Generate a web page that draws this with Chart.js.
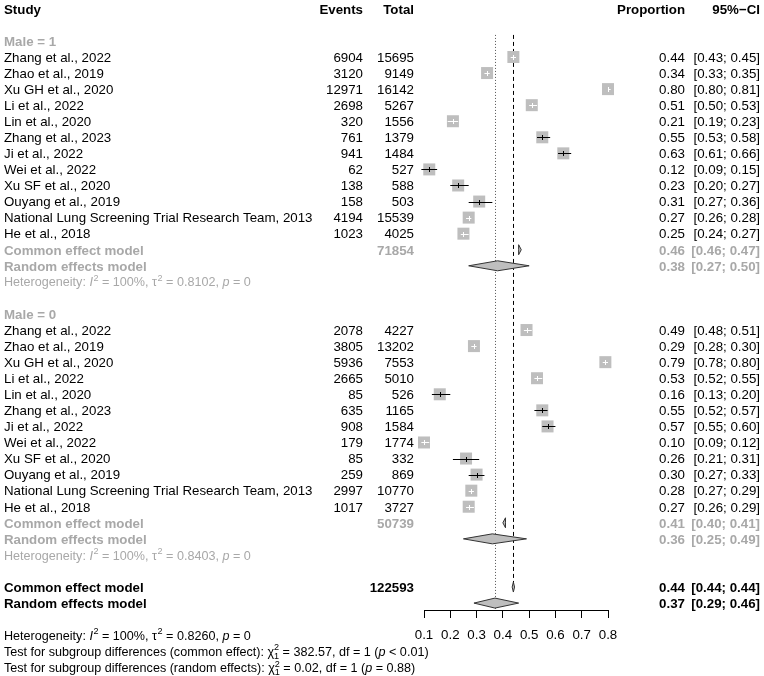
<!DOCTYPE html>
<html><head><meta charset="utf-8">
<script src="https://cdn.jsdelivr.net/npm/chart.js@4/dist/chart.umd.min.js"></script>
<style>html,body{margin:0;padding:0;background:#fff}canvas{display:block}</style>
</head><body>
<canvas id="c" width="764" height="676"></canvas>
<script>
// ---------------- data ----------------
const studies = ["Zhang et al., 2022", "Zhao et al., 2019", "Xu GH et al., 2020", "Li et al., 2022",
  "Lin et al., 2020", "Zhang et al., 2023", "Ji et al., 2022", "Wei et al., 2022", "Xu SF et al., 2020",
  "Ouyang et al., 2019", "National Lung Screening Trial Research Team, 2013", "He et al., 2018"];

const male1Events = [6904, 3120, 12971, 2698, 320, 761, 941, 62, 138, 158, 4194, 1023];
const male1Total  = [15695, 9149, 16142, 5267, 1556, 1379, 1484, 527, 588, 503, 15539, 4025];
const male1Prop   = [0.44, 0.34, 0.80, 0.51, 0.21, 0.55, 0.63, 0.12, 0.23, 0.31, 0.27, 0.25];
const male1Lower  = [0.43, 0.33, 0.80, 0.50, 0.19, 0.53, 0.61, 0.09, 0.20, 0.27, 0.26, 0.24];
const male1Upper  = [0.45, 0.35, 0.81, 0.53, 0.23, 0.58, 0.66, 0.15, 0.27, 0.36, 0.28, 0.27];

const male0Events = [2078, 3805, 5936, 2665, 85, 635, 908, 179, 85, 259, 2997, 1017];
const male0Total  = [4227, 13202, 7553, 5010, 526, 1165, 1584, 1774, 332, 869, 10770, 3727];
const male0Prop   = [0.49, 0.29, 0.79, 0.53, 0.16, 0.55, 0.57, 0.10, 0.26, 0.30, 0.28, 0.27];
const male0Lower  = [0.48, 0.28, 0.78, 0.52, 0.13, 0.52, 0.55, 0.09, 0.21, 0.27, 0.27, 0.26];
const male0Upper  = [0.51, 0.30, 0.80, 0.55, 0.20, 0.57, 0.60, 0.12, 0.31, 0.33, 0.29, 0.29];

// summaries: [estimate, lower, upper]
const male1Common  = [0.46, 0.46, 0.47];
const male1Random  = [0.38, 0.27, 0.50];
const male0Common  = [0.41, 0.40, 0.41];
const male0Random  = [0.36, 0.25, 0.49];
const overallCommon = [0.44, 0.44, 0.44];
const overallRandom = [0.37, 0.29, 0.46];
const male1N = 71854, male0N = 50739, overallN = 122593;

const male1Het = ["100%", "0.8102", "0"];
const male0Het = ["100%", "0.8403", "0"];
const overallHet = ["100%", "0.8260", "0"];
const testCommon = ["382.57", "1", "< 0.01"];
const testRandom = ["0.02", "1", "= 0.88"];

const axisTicks = [0.1, 0.2, 0.3, 0.4, 0.5, 0.6, 0.7, 0.8];

// ---------------- layout ----------------
const FF = "'Liberation Sans', Arial, sans-serif";
const FS = 13.3;
const FSH = 12.6;            // heterogeneity / test text size
const GRAY_TXT = '#A8A8A8';
const SQ = 12;               // square side px
const ROW1 = 3, ROW0 = 20;   // first study rows
const colStudy = 4, colEvents = 363, colTotal = 414, colProp = 685, colCI = 760;

const male1Points = male1Prop.map((p, i) => ({x: p, y: ROW1 + i}));
const male0Points = male0Prop.map((p, i) => ({x: p, y: ROW0 + i}));

function f2(v) { return v.toFixed(2); }
function ciTxt(lo, hi) { return '[' + f2(lo) + '; ' + f2(hi) + ']'; }

function txt(ctx, s, x, y, align, bold, color) {
  ctx.font = (bold ? 'bold ' : '') + FS + 'px ' + FF;
  ctx.textAlign = align; ctx.fillStyle = color; ctx.textBaseline = 'alphabetic';
  ctx.fillText(s, x, y + 4.8);
}

function rich(ctx, x, y, segs, color) {
  let cx = x; y = y + 4.6;
  ctx.textAlign = 'left'; ctx.fillStyle = color; ctx.textBaseline = 'alphabetic';
  const small = (FSH * 0.72).toFixed(1) + 'px ' + FF;
  for (const [t, st] of segs) {
    if (st === 'n' || st === 'i') {
      ctx.font = (st === 'i' ? 'italic ' : '') + FSH + 'px ' + FF;
      ctx.fillText(t, cx, y); cx += ctx.measureText(t).width;
    } else if (st === 'sup') {
      ctx.font = small; ctx.fillText(t, cx + 0.5, y - 5.4); cx += ctx.measureText(t).width + 0.5;
    } else if (st === 'supsub') {
      const [a, b] = t.split('|');
      ctx.font = small;
      ctx.fillText(a, cx, y - 5.4); ctx.fillText(b, cx, y + 3.4);
      cx += Math.max(ctx.measureText(a).width, ctx.measureText(b).width);
    }
  }
}

function hetSegs(h) {
  return [["Heterogeneity: ", 'n'], ["I", 'i'], ["2", 'sup'], [" = " + h[0] + ", \u03C4", 'n'], ["2", 'sup'],
          [" = " + h[1] + ", ", 'n'], ["p", 'i'], [" = " + h[2], 'n']];
}
function testSegs(label, t) {
  return [["Test for subgroup differences (" + label + "): \u03C7", 'n'], ["2|1", 'supsub'],
          [" = " + t[0] + ", df = " + t[1] + " (", 'n'], ["p", 'i'], [" " + t[2] + ")", 'n']];
}

function diamond(ctx, xs, y, s, h) {
  let xl = xs.getPixelForValue(s[1]), xh = xs.getPixelForValue(s[2]), xe = xs.getPixelForValue(s[0]);
  if (xh - xl < 2.4) { xl = xe - 1.2; xh = xe + 1.2; }
  ctx.beginPath();
  ctx.moveTo(xl, y); ctx.lineTo(xe, y - h); ctx.lineTo(xh, y); ctx.lineTo(xe, y + h); ctx.closePath();
  ctx.fillStyle = '#BEBEBE'; ctx.fill();
  ctx.strokeStyle = '#333'; ctx.lineWidth = 1; ctx.stroke();
}

const forestPlugin = {
  id: 'forest',
  beforeDatasetsDraw(chart) {
    const ctx = chart.ctx, xs = chart.scales.x, ys = chart.scales.y;
    const top = ys.getPixelForValue(2) - 6;
    ctx.save();
    ctx.lineWidth = 1;
    // random effects reference (dotted)
    let x = Math.round(xs.getPixelForValue(overallRandom[0])) + 0.5;
    ctx.strokeStyle = '#555'; ctx.setLineDash([1, 2]);
    ctx.beginPath(); ctx.moveTo(x, top); ctx.lineTo(x, chart.chartArea.bottom); ctx.stroke();
    // common effect reference (dashed)
    x = Math.round(xs.getPixelForValue(overallCommon[0])) + 0.5;
    ctx.strokeStyle = '#000'; ctx.setLineDash([4, 3]);
    ctx.beginPath(); ctx.moveTo(x, top); ctx.lineTo(x, ys.getPixelForValue(36)); ctx.stroke();
    ctx.restore();
  },
  afterDatasetsDraw(chart) {
    const ctx = chart.ctx, xs = chart.scales.x, ys = chart.scales.y;
    ctx.save();
    ctx.lineWidth = 1;
    const ci = (prop, lo, hi, row0) => {
      prop.forEach((p, i) => {
        const y = Math.round(ys.getPixelForValue(row0 + i)) + 0.5;
        const xl = xs.getPixelForValue(lo[i]), xh = xs.getPixelForValue(hi[i]), xe = xs.getPixelForValue(p);
        ctx.strokeStyle = (xh - xl) < SQ ? '#fff' : '#000';
        ctx.beginPath(); ctx.moveTo(xl, y); ctx.lineTo(xh, y);
        ctx.moveTo(Math.round(xe) + 0.5, y - 2.5); ctx.lineTo(Math.round(xe) + 0.5, y + 2.5); ctx.stroke();
      });
    };
    ci(male1Prop, male1Lower, male1Upper, ROW1);
    ci(male0Prop, male0Lower, male0Upper, ROW0);
    diamond(ctx, xs, ys.getPixelForValue(15), male1Common, 5);
    diamond(ctx, xs, ys.getPixelForValue(16), male1Random, 5);
    diamond(ctx, xs, ys.getPixelForValue(32), male0Common, 5);
    diamond(ctx, xs, ys.getPixelForValue(33), male0Random, 5);
    diamond(ctx, xs, ys.getPixelForValue(36), overallCommon, 5);
    diamond(ctx, xs, ys.getPixelForValue(37), overallRandom, 5);
    ctx.restore();
  },
  afterDraw(chart) {
    const ctx = chart.ctx, ys = chart.scales.y;
    const Y = r => ys.getPixelForValue(r);
    ctx.save();
    // header
    txt(ctx, 'Study', colStudy, Y(0), 'left', true, '#000');
    txt(ctx, 'Events', colEvents, Y(0), 'right', true, '#000');
    txt(ctx, 'Total', colTotal, Y(0), 'right', true, '#000');
    txt(ctx, 'Proportion', colProp, Y(0), 'right', true, '#000');
    txt(ctx, '95%\u2212CI', colCI, Y(0), 'right', true, '#000');

    const group = (label, row0, ev, tot, prop, lo, hi, com, ran, n, het) => {
      txt(ctx, label, colStudy, Y(row0 - 1), 'left', true, GRAY_TXT);
      studies.forEach((s, i) => {
        const y = Y(row0 + i);
        txt(ctx, s, colStudy, y, 'left', false, '#000');
        txt(ctx, String(ev[i]), colEvents, y, 'right', false, '#000');
        txt(ctx, String(tot[i]), colTotal, y, 'right', false, '#000');
        txt(ctx, f2(prop[i]), colProp, y, 'right', false, '#000');
        txt(ctx, ciTxt(lo[i], hi[i]), colCI, y, 'right', false, '#000');
      });
      let y = Y(row0 + 12);
      txt(ctx, 'Common effect model', colStudy, y, 'left', true, GRAY_TXT);
      txt(ctx, String(n), colTotal, y, 'right', true, GRAY_TXT);
      txt(ctx, f2(com[0]), colProp, y, 'right', true, GRAY_TXT);
      txt(ctx, ciTxt(com[1], com[2]), colCI, y, 'right', true, GRAY_TXT);
      y = Y(row0 + 13);
      txt(ctx, 'Random effects model', colStudy, y, 'left', true, GRAY_TXT);
      txt(ctx, f2(ran[0]), colProp, y, 'right', true, GRAY_TXT);
      txt(ctx, ciTxt(ran[1], ran[2]), colCI, y, 'right', true, GRAY_TXT);
      rich(ctx, colStudy, Y(row0 + 14), hetSegs(het), GRAY_TXT);
    };
    group('Male = 1', ROW1, male1Events, male1Total, male1Prop, male1Lower, male1Upper, male1Common, male1Random, male1N, male1Het);
    group('Male = 0', ROW0, male0Events, male0Total, male0Prop, male0Lower, male0Upper, male0Common, male0Random, male0N, male0Het);

    let y = Y(36);
    txt(ctx, 'Common effect model', colStudy, y, 'left', true, '#000');
    txt(ctx, String(overallN), colTotal, y, 'right', true, '#000');
    txt(ctx, f2(overallCommon[0]), colProp, y, 'right', true, '#000');
    txt(ctx, ciTxt(overallCommon[1], overallCommon[2]), colCI, y, 'right', true, '#000');
    y = Y(37);
    txt(ctx, 'Random effects model', colStudy, y, 'left', true, '#000');
    txt(ctx, f2(overallRandom[0]), colProp, y, 'right', true, '#000');
    txt(ctx, ciTxt(overallRandom[1], overallRandom[2]), colCI, y, 'right', true, '#000');

    rich(ctx, colStudy, Y(39), hetSegs(overallHet), '#000');
    rich(ctx, colStudy, Y(40), testSegs('common effect', testCommon), '#000');
    rich(ctx, colStudy, Y(41), testSegs('random effects', testRandom), '#000');
    ctx.restore();
  }
};

new Chart(document.getElementById('c'), {
  type: 'scatter',
  data: {
    datasets: [
      { label: 'Male = 1', data: male1Points, pointStyle: 'rect', pointRadius: SQ / 2 / Math.SQRT1_2,
        backgroundColor: '#BEBEBE', borderWidth: 0, clip: false },
      { label: 'Male = 0', data: male0Points, pointStyle: 'rect', pointRadius: SQ / 2 / Math.SQRT1_2,
        backgroundColor: '#BEBEBE', borderWidth: 0, clip: false }
    ]
  },
  options: {
    responsive: false, animation: false, events: [],
    layout: { autoPadding: false, padding: { left: 424, right: 156, top: 0, bottom: 0 } },
    plugins: { legend: { display: false }, tooltip: { enabled: false } },
    scales: {
      x: {
        type: 'linear', min: 0.1, max: 0.8, position: 'bottom',
        afterFit: s => { s.height = 66; },
        afterBuildTicks: s => { s.ticks = axisTicks.map(v => ({ value: v })); },
        grid: { drawOnChartArea: false, drawTicks: true, tickLength: 8, color: '#000', lineWidth: 1 },
        border: { display: true, color: '#000', width: 1 },
        ticks: { color: '#000', padding: 9, font: { family: FF, size: FS }, callback: v => v.toFixed(1), maxRotation: 0, autoSkip: false }
      },
      y: { type: 'linear', display: false, reverse: true, min: -0.548, max: 37.43 }
    }
  },
  plugins: [forestPlugin]
});
</script>
</body></html>
